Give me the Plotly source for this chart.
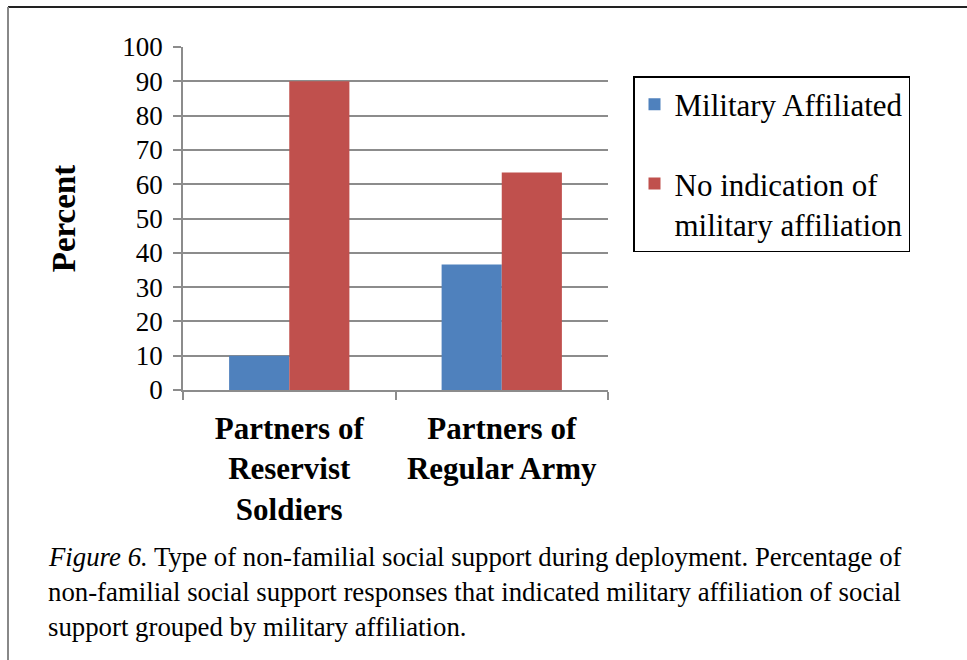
import plotly.graph_objects as go

categories = ["Partners of<br>Reservist<br>Soldiers", "Partners of<br>Regular Army"]
series_names = ["Military Affiliated", "No indication of<br>military affiliation"]
military_affiliated = [10, 36.6]
no_indication = [90, 63.4]
y_ticks = [0, 10, 20, 30, 40, 50, 60, 70, 80, 90, 100]
caption_lines = [
    "<i>Figure 6.</i> Type of non-familial social support during deployment. Percentage of",
    "non-familial social support responses that indicated military affiliation of social",
    "support grouped by military affiliation.",
]

FONT = "Liberation Serif"
GRID = "#8c8c8c"

W, H = 967, 660
L, R, T, B = 183, 608, 47, 390


def px(xp):
    return (xp - L) / (R - L)


def py(yp):
    return (B - yp) / (B - T)


fig = go.Figure()
fig.add_trace(go.Bar(x=categories, y=military_affiliated, name=series_names[0],
                     marker=dict(color="#4F81BD", line=dict(width=0)), legendgroup="a"))
fig.add_trace(go.Bar(x=categories, y=no_indication, name=series_names[1],
                     marker=dict(color="#C0504D", line=dict(width=0)), legendgroup="b"))

fig.update_layout(
    width=W, height=H,
    margin=dict(l=L, r=W - R, t=T, b=H - B, pad=0),
    paper_bgcolor="white", plot_bgcolor="white",
    barmode="group", bargap=0.434, bargroupgap=0,
    font=dict(family=FONT, color="black"),
    showlegend=True,
    legend=dict(
        x=px(633), y=py(76), xanchor="left", yanchor="top",
        bordercolor="black", borderwidth=1.5, bgcolor="white",
        font=dict(family=FONT, size=31, color="black"),
        traceorder="grouped", tracegroupgap=36, valign="top",
        itemwidth=30,
    ),
)

fig.update_yaxes(
    range=[0, 100], tickvals=y_ticks, showgrid=True, gridcolor=GRID, gridwidth=1.5,
    showline=True, linecolor=GRID, linewidth=1.5,
    ticks="outside", ticklen=8, tickcolor=GRID, tickwidth=1.5,
    tickfont=dict(family=FONT, size=27, color="black"), ticklabelstandoff=5,
    title=dict(text="<b>Percent</b>", font=dict(family=FONT, size=33, color="black"), standoff=37),
    zeroline=False, fixedrange=True,
)
fig.update_xaxes(
    type="category", tickson="boundaries", showgrid=False,
    showline=True, linecolor=GRID, linewidth=1.5,
    ticks="outside", ticklen=8, tickcolor=GRID, tickwidth=1.5,
    tickfont=dict(family=FONT, size=31, color="black"), ticklabelstandoff=10,
    tickprefix="<b>", ticksuffix="</b>",
    fixedrange=True,
)

# page frame lines (top and left)
fig.add_shape(type="line", xref="paper", yref="paper",
              x0=px(8), x1=px(967), y0=py(7), y1=py(7), line=dict(color="#222222", width=2))
fig.add_shape(type="line", xref="paper", yref="paper",
              x0=px(8), x1=px(8), y0=py(7), y1=py(660), line=dict(color="#888888", width=2))

# caption
for i, line in enumerate(caption_lines):
    fig.add_annotation(text=line, xref="paper", yref="paper",
                       x=px(46), y=py(557 + 35 * i), xanchor="left", yanchor="middle",
                       showarrow=False, font=dict(family=FONT, size=26.8, color="black"))

fig.write_html("out.html", config={"displayModeBar": False},
               post_script="document.body.style.margin='0';")
